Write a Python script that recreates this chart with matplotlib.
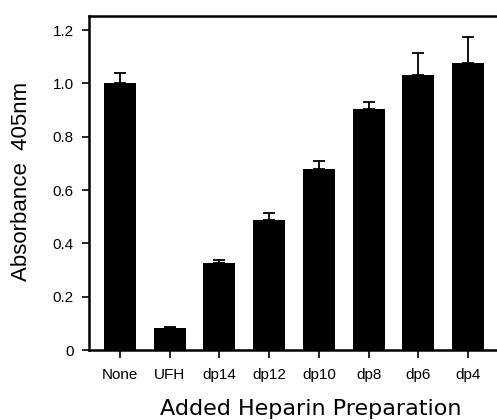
import matplotlib
matplotlib.use("Agg")
import matplotlib.pyplot as plt
import numpy as np

plt.rcParams['font.family'] = ['Liberation Sans', 'DejaVu Sans']

labels = ["None", "UFH", "dp14", "dp12", "dp10", "dp8", "dp6", "dp4"]
absorb = [1.0, 0.081, 0.326, 0.488, 0.678, 0.905, 1.031, 1.075]
err_up = [0.04, 0.006, 0.011, 0.025, 0.032, 0.026, 0.084, 0.10]

fig = plt.figure(figsize=(4.97, 4.20), dpi=100)
ax = fig.add_axes([89/497, 70/420, 1 - 89/497, 334/420])

x = np.arange(len(labels))
ax.bar(x, absorb, width=0.64, color="black", zorder=2)
ax.errorbar(x, absorb, yerr=[np.zeros(len(x)), err_up], fmt="none",
            ecolor="black", elinewidth=1.3, capsize=4, capthick=1.3, zorder=1)

ax.set_xlim(-0.62, 7.58)
ax.set_ylim(0, 1.2525)
ax.set_yticks([0, 0.2, 0.4, 0.6, 0.8, 1.0, 1.2])
ax.set_yticklabels(["0", "0.2", "0.4", "0.6", "0.8", "1.0", "1.2"])
ax.set_xticks(x)
ax.set_xticklabels(labels)
ax.tick_params(axis="y", direction="out", length=5, width=1.2, labelsize=11, pad=6)
ax.tick_params(axis="x", direction="out", length=6, width=1.2, labelsize=11, pad=7)

for s in ["left", "bottom", "top"]:
    ax.spines[s].set_linewidth(1.8)
ax.spines["right"].set_visible(False)

ax.set_ylabel("Absorbance  405nm", fontsize=16)
ax.yaxis.set_label_coords(-0.14, 0.504)
ax.set_xlabel("Added Heparin Preparation", fontsize=16, family="DejaVu Sans")
ax.xaxis.set_label_coords(0.544, -0.148)

fig.savefig("out.png", dpi=100)
